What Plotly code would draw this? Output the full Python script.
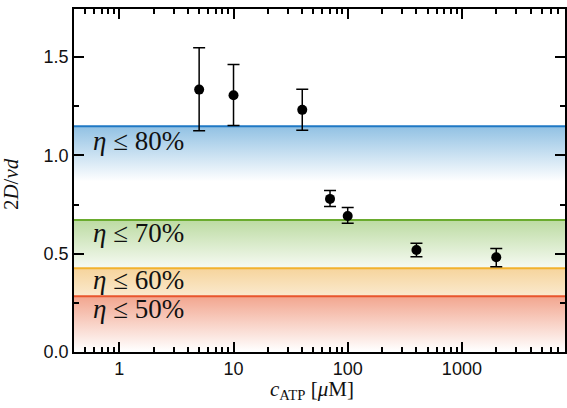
import plotly.graph_objects as go

# ---- data ----
c_atp = [5, 10, 40, 70, 100, 400, 2000]
ratio = [1.335, 1.306, 1.232, 0.779, 0.692, 0.519, 0.482]
err_hi = [0.213, 0.157, 0.105, 0.042, 0.043, 0.034, 0.044]
err_lo = [0.209, 0.154, 0.104, 0.039, 0.037, 0.034, 0.048]

band_levels = [1.148, 0.672, 0.426, 0.284]
band_labels = ["80%", "70%", "60%", "50%"]
band_label_y = [1.075, 0.606, 0.366, 0.218]
band_line_colors = ["#1f78c4", "#6aab2e", "#f2b22e", "#e9552c"]
band_fill_colors = ["rgb(145,193,227)", "rgb(188,219,162)", "rgb(246,212,156)", "rgb(242,165,142)"]
band_depth = 0.28

x_range_log = [-0.397, 3.903]
y_range = [0, 1.745]
x_ticks = [1, 10, 100, 1000]
x_tick_text = ["1", "10", "100", "1000"]
x_minor_ticks = [m * 10 ** d for d in range(-1, 4) for m in range(2, 10)]
y_ticks = [0.0, 0.5, 1.0, 1.5]
y_tick_text = ["0.0", "0.5", "1.0", "1.5"]
y_minor_ticks = [0.25, 0.75, 1.25]

SERIF = "Liberation Serif"
SANS = "Liberation Sans"

fig = go.Figure()

x_lo, x_hi = 10 ** -1, 10 ** 4.5
for lvl, lc, fc in zip(band_levels, band_line_colors, band_fill_colors):
    bot = lvl - band_depth
    fig.add_trace(go.Scatter(
        x=[x_lo, x_hi, x_hi, x_lo, x_lo], y=[lvl, lvl, bot, bot, lvl],
        mode="lines", line=dict(width=0), fill="toself",
        fillgradient=dict(type="vertical", colorscale=[[0, "rgb(255,255,255)"], [1, fc]],
                          start=bot, stop=lvl),
        hoverinfo="skip", showlegend=False))
    fig.add_trace(go.Scatter(
        x=[x_lo, x_hi], y=[lvl, lvl], mode="lines",
        line=dict(color=lc, width=2), hoverinfo="skip", showlegend=False))

fig.add_trace(go.Scatter(
    x=c_atp, y=ratio, mode="markers",
    marker=dict(color="black", size=10),
    error_y=dict(type="data", symmetric=False, array=err_hi, arrayminus=err_lo,
                 color="black", thickness=1.5, width=6),
    showlegend=False))

for lab, ly in zip(band_labels, band_label_y):
    fig.add_annotation(
        x=0.035, xref="paper", y=ly, yref="y", xanchor="left", yanchor="middle",
        text="<i>η</i> ≤ " + lab, showarrow=False,
        font=dict(family=SERIF, size=27, color="#111"))

fig.add_annotation(
    x=0.485, xref="paper", y=-0.112, yref="paper", xanchor="center", yanchor="middle",
    text="<i>c</i><sub>ATP</sub> [<i>μ</i>M]", showarrow=False,
    font=dict(family=SERIF, size=21, color="#111"))
fig.add_annotation(
    x=-0.128, xref="paper", y=0.49, yref="paper", xanchor="center", yanchor="middle",
    textangle=-90, text="2<i>D</i>/<i>vd</i>", showarrow=False,
    font=dict(family=SERIF, size=21, color="#111"))

axis_common = dict(showline=True, linecolor="black", linewidth=1.5, mirror="ticks",
                   ticks="inside", ticklen=10, tickwidth=1.5, tickcolor="black",
                   showgrid=False, zeroline=False, layer="above traces",
                   tickfont=dict(family=SANS, size=18, color="#111"))

fig.update_xaxes(type="log", range=x_range_log, tickvals=x_ticks, ticktext=x_tick_text,
                 minor=dict(ticks="inside", ticklen=5, tickwidth=1.5, tickcolor="black",
                            tickmode="array", tickvals=x_minor_ticks),
                 **axis_common)
fig.update_yaxes(range=y_range, tickvals=y_ticks, ticktext=y_tick_text,
                 minor=dict(ticks="inside", ticklen=5, tickwidth=1.5, tickcolor="black",
                            tickmode="array", tickvals=y_minor_ticks),
                 **axis_common)

fig.update_layout(width=567, height=408, margin=dict(l=74, r=0, t=9, b=56),
                  paper_bgcolor="white", plot_bgcolor="white")

fig.write_html("out.html")
